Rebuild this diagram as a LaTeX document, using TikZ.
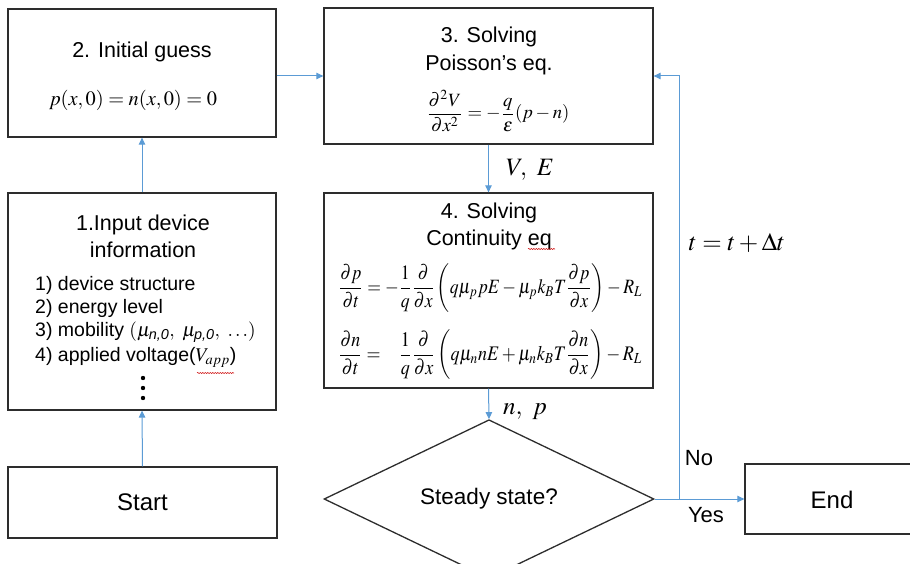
\documentclass[tikz,border=0pt]{standalone}
\usepackage{amsmath}
\usepackage{mathptmx}
\usepackage[no-math]{fontspec}
\setmainfont{Liberation Sans}
\usepackage{graphicx}
\usetikzlibrary{arrows.meta,shapes.geometric,decorations.pathmorphing}
\definecolor{arrowblue}{RGB}{91,155,213}
\definecolor{boxgray}{RGB}{45,45,45}
\tikzset{
  boxnode/.style={draw=boxgray, line width=1.3pt, rectangle, inner sep=0pt},
  txt/.style={inner sep=0pt, font=\fontsize{21.5}{25}\selectfont},
  listtxt/.style={inner sep=0pt, anchor=west, font=\fontsize{19.5}{23}\selectfont},
  bigtxt/.style={inner sep=0pt, font=\fontsize{24}{28}\selectfont},
  lbl/.style={inner sep=0pt, font=\fontsize{25}{30}\selectfont},
  arr/.style={draw=arrowblue, line width=1pt, -{Triangle[length=7pt,width=6.5pt]}},
  squig/.style={draw=red!80!black, line width=0.5pt, decorate, decoration={snake, amplitude=0.6pt, segment length=2.5pt}}
}
\begin{document}
\begin{tikzpicture}[x=1pt,y=-1pt]
\useasboundingbox (0,0) rectangle (910,564);
% boxes
\node[boxnode, minimum width=268pt, minimum height=128pt] (box2) at (142,73) {};
\node[boxnode, minimum width=268pt, minimum height=217pt] (box1) at (142,301.5) {};
\node[boxnode, minimum width=329pt, minimum height=136pt] (box3) at (488.5,76) {};
\node[boxnode, minimum width=329pt, minimum height=195pt] (box4) at (488.5,290.5) {};
\node[boxnode, minimum width=269pt, minimum height=71pt, font=\fontsize{24}{28}\selectfont] (start) at (142.5,502.5) {Start};
\node[boxnode, minimum width=180pt, minimum height=70pt] (end) at (835,499) {};
\node[bigtxt] (endtxt) at (832,500) {End};
\node[draw=boxgray, line width=1.3pt, diamond, inner sep=0pt, minimum width=330pt, minimum height=132pt, font=\fontsize{22.5}{26}\selectfont] (dia) at (489,499) {Steady state?};

% box 2 content
\node[txt] (t2) at (142,52) {2. Initial guess};
\node[inner sep=0pt] (e2) at (133,100) {\resizebox{168pt}{!}{$p(x,0)=n(x,0)=0$}};

% box 3 content
\node[txt] (t3a) at (489,37) {3. Solving};
\node[txt] (t3b) at (489,65) {Poisson’s eq.};
\node[inner sep=0pt] (e3) at (498,111) {\resizebox{143pt}{!}{$\dfrac{\partial^2 V}{\partial x^2} = -\dfrac{q}{\varepsilon}(p-n)$}};

% box 4 content
\node[txt] (t4a) at (489,213) {4. Solving};
\node[txt] (t4b) at (489,240) {Continuity eq};
\draw[squig] (528,249) -- (555,249);
\node[inner sep=0pt, anchor=west] (e4a) at (338,288) {\scalebox{1}[1.15]{\resizebox{304pt}{!}{$\dfrac{\partial p}{\partial t} = -\dfrac{1}{q}\dfrac{\partial}{\partial x}\left(q\mu_p pE-\mu_p k_B T\dfrac{\partial p}{\partial x}\right)-R_L$}}};
\node[inner sep=0pt, anchor=west] (e4b) at (338,355) {\scalebox{1}[1.15]{\resizebox{304pt}{!}{$\dfrac{\partial n}{\partial t} = \phantom{-}\dfrac{1}{q}\dfrac{\partial}{\partial x}\left(q\mu_n nE+\mu_n k_B T\dfrac{\partial n}{\partial x}\right)-R_L$}}};

% box 1 content
\node[txt] (t1a) at (143,225) {1.Input device};
\node[txt] (t1b) at (143,250) {information};
\node[listtxt] (l1) at (35,285) {1) device structure};
\node[listtxt] (l2) at (35,308) {2) energy level};
\node[listtxt] (l3) at (35,332) {3) mobility $(\mu_{\textit{n,0}},\ \mu_{\textit{p,0}},\ \ldots)$};
\node[listtxt] (l4) at (35,357) {4) applied voltage($V_{app}$)};
\draw[squig] (197,373) -- (234,373);
\fill[black] (143,378) circle (2.2pt);
\fill[black] (143,388) circle (2.2pt);
\fill[black] (143,398) circle (2.2pt);

% connectors
\draw[arr] (start.north) -- (box1.south);
\draw[arr] (box1.north) -- (box2.south);
\draw[arr] (box2.east |- box3.west) -- (box3.west);
\draw[arr] (box3.south) -- (box4.north);
\draw[arr] (box4.south) -- (dia.north);
\draw[arr] (dia.east) -- (end.west);
\coordinate (turn) at (679,499);
\draw[arr] (turn) |- (box3.east);

% labels
\node[lbl] (lve) at (530,170) {$V,\ E$};
\node[lbl] (lnp) at (525,412) {$n,\ p$};
\node[lbl] (ldt) at (737,243) {$t=t+\Delta t$};
\node[inner sep=0pt, font=\fontsize{22}{26}\selectfont] (lno) at (699,458) {No};
\node[inner sep=0pt, font=\fontsize{22}{26}\selectfont] (lyes) at (706,515) {Yes};
\end{tikzpicture}
\end{document}
